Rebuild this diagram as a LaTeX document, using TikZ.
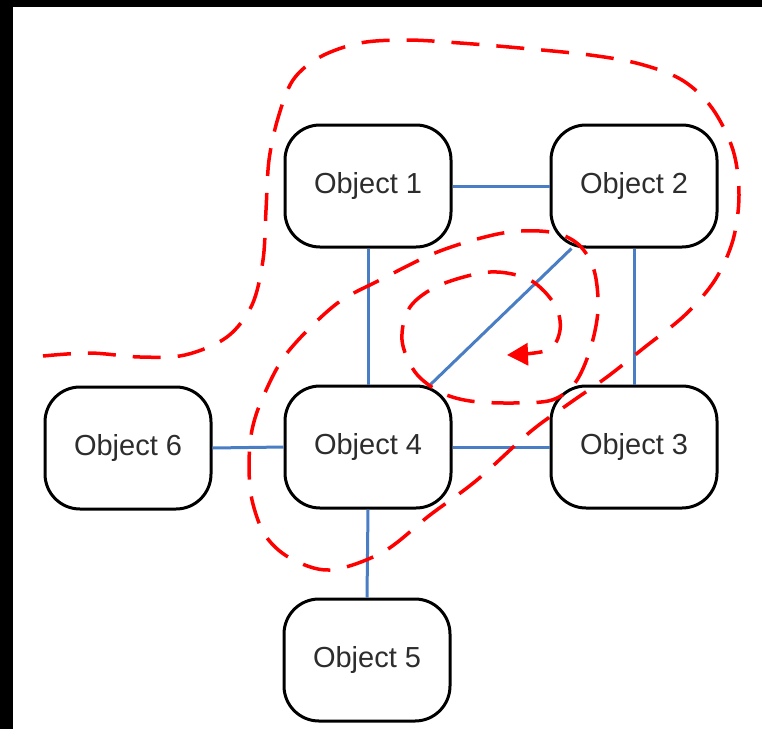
\documentclass[tikz,border=0pt]{standalone}
\usepackage{fontspec}
\setmainfont{Liberation Sans}
\usetikzlibrary{arrows.meta}
\definecolor{linkblue}{RGB}{74,126,196}
\definecolor{txtgray}{RGB}{45,45,45}
\begin{document}
\begin{tikzpicture}[x=1pt,y=-1pt,
  objbox/.style={draw=black, line width=3pt, rounded corners=35pt, fill=white,
    minimum width=166pt, minimum height=122pt, inner sep=0pt,
    font=\fontsize{29}{33}\selectfont, text=txtgray},
  link/.style={draw=linkblue, line width=3pt},
  spiralpath/.style={draw=red, line width=3.5pt, dash pattern=on 28pt off 17pt,
    -{Triangle[length=21pt,width=22pt]}}
]
\useasboundingbox (0,0) rectangle (762,728);
\fill[white] (0,0) rectangle (780,745);
\fill[black] (-5,-5) rectangle (780,7);
\fill[black] (-5,-5) rectangle (13,745);

\node[objbox] (o1) at (368,186) {Object 1};
\node[objbox] (o2) at (634,186) {Object 2};
\node[objbox] (o3) at (634,447) {Object 3};
\node[objbox] (o4) at (368,447) {Object 4};
\node[objbox] (o5) at (367,660) {Object 5};
\node[objbox] (o6) at (128,448) {Object 6};

\draw[link] (o1.east) -- (o2.west);
\draw[link] (o1.south) -- (o4.north);
\draw[link] (o2.south) -- (o3.north);
\draw[link] (o4.east) -- (o3.west);
\draw[link] (o6.east) -- (o4.west);
\draw[link] (o4.south) -- (o5.north);
\draw[link] (o4.45) -- (o2.225);

\draw[spiralpath] plot[smooth, tension=0.55] coordinates {
 (43,356) (90,353) (140,357) (185,355) (227,337) (252,305) (263,260) (266,210)
 (269,160) (278,118) (293,80) (320,57) (360,43) (407,40) (460,43) (520,48)
 (590,55) (640,64) (682,80) (712,108) (733,150) (739,195) (733,240) (715,280)
 (685,315) (645,347) (607,377) (567,405) (530,432) (477,480) (430,515) (383,552)
 (330,570) (290,558) (265,535) (252,500) (249,465) (252,430) (263,397) (287,353)
 (335,305) (380,280) (440,251) (503,233) (550,232) (578,244) (594,270) (598,310)
 (590,350) (575,383) (552,400) (513,403) (470,401) (440,392) (415,372) (402,340)
 (410,307) (440,285) (490,272) (530,280) (555,305) (560,330) (548,350) (507,355)
};
\end{tikzpicture}
\end{document}
